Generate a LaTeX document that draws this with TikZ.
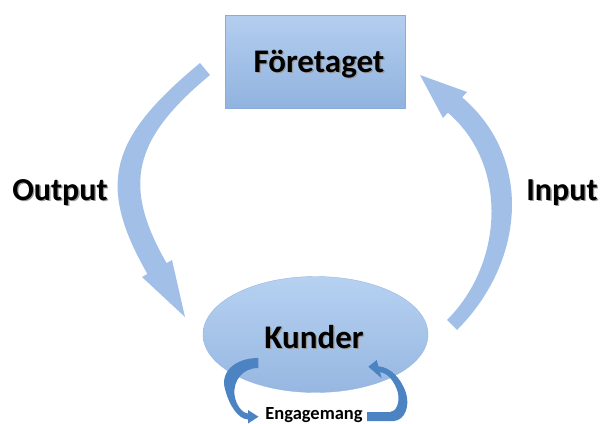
\documentclass[tikz,border=0pt]{standalone}
\usepackage{fontspec}
\setmainfont{Carlito}
\usetikzlibrary{shapes.geometric}
\definecolor{boxtop}{HTML}{B3CEEF}
\definecolor{boxbot}{HTML}{91B3DF}
\definecolor{boxline}{HTML}{8AACD9}
\definecolor{elltop}{HTML}{B6D1F1}
\definecolor{ellbot}{HTML}{97B7E1}
\definecolor{bigarrow}{HTML}{A2C0E7}
\definecolor{smallarrow}{HTML}{4C83C3}
\tikzset{
  bigtxt/.style={font=\bfseries\fontsize{33}{38}\selectfont, text=black},
  sidetxt/.style={font=\bfseries\fontsize{32}{36}\selectfont, text=black},
  smalltxt/.style={font=\bfseries\fontsize{18.5}{22}\selectfont, text=black},
  shadowtxt/.style={text=black!40},
  bigband/.style={fill=bigarrow},
  smallband/.style={fill=smallarrow},
}
\begin{document}
\begin{tikzpicture}[x=1pt,y=-1pt]
\useasboundingbox (0,0) rectangle (602,423);
\clip (0,0) rectangle (602,423);

% main shapes
\node[rectangle, draw=boxline, line width=0.8pt, top color=boxtop, bottom color=boxbot,
      minimum width=180pt, minimum height=93pt, inner sep=0pt] (firm) at (315,61.5) {};
\node[ellipse, top color=elltop, bottom color=ellbot, draw=ellbot, line width=0.4pt,
      minimum width=225pt, minimum height=116pt, inner sep=0pt] (cust) at (315.5,334.5) {};

% texts
\node[bigtxt, shadowtxt, anchor=base] (firmS) at ([shift={(1.3,1.3)}]319,72) {Företaget};
\node[bigtxt, anchor=base] (firmT) at (319,72) {Företaget};
\node[bigtxt, shadowtxt, anchor=base] (custS) at ([shift={(1.3,1.3)}]314,348) {Kunder};
\node[bigtxt, anchor=base] (custT) at (314,348) {Kunder};
\node[sidetxt, shadowtxt, anchor=base] (outS) at ([shift={(1.3,1.3)}]60,200) {Output};
\node[sidetxt, anchor=base] (outT) at (60,200) {Output};
\node[sidetxt, shadowtxt, anchor=base] (inS) at ([shift={(1.3,1.3)}]562,200) {Input};
\node[sidetxt, anchor=base] (inT) at (562,200) {Input};
\node[smalltxt, anchor=base] (eng) at (314,419.5) {Engagemang};

% output arrow (firm -> customers), tapered band + head
\coordinate (o0) at (200,63);
\coordinate (o1) at (210,75);
\path[bigband] (o0) .. controls (111.4,136.6) and (94.9,182.6) .. (147.4,273.9)
   -- (142,277) -- (185,317) -- (172,260) -- (166.6,263.1)
   .. controls (121.6,184.8) and (133,139) .. (o1) -- cycle;

% input arrow (customers -> firm)
\coordinate (i0) at (457,330);
\coordinate (i1) at (447,320);
\path[bigband] (i0) .. controls (524.2,262.8) and (534.3,159.1) .. (462.1,97.3)
   -- (467,92) -- (420,75) -- (443,118) -- (447.9,112.7)
   .. controls (508.7,164.7) and (503.6,263.4) .. (i1) -- cycle;

% engagement arrows
\coordinate (e0) at (258.3,358);
\coordinate (e1) at (258.3,368);
\path[smallband] (e0) .. controls (235,358) and (220,372) .. (225,389)
   .. controls (229,405) and (238,419) .. (248,419.5)
   -- (248,423.5) -- (258.5,416.7) -- (248,410) -- (248,413.5)
   .. controls (242,413) and (236,405) .. (234.5,395)
   .. controls (233,380) and (243,368) .. (e1) -- cycle;

\coordinate (f0) at (367,421);
\coordinate (f1) at (367,412);
\path[smallband] (f0) -- (394,421) .. controls (405,420) and (410,406) .. (406,393)
   .. controls (401,378) and (390,367) .. (378.4,366.3)
   -- (376.7,360) -- (368.3,366.7) -- (381.7,378.3) -- (380,372.1)
   .. controls (388,373) and (395,382) .. (398,393)
   .. controls (400,403) and (396,412) .. (390,412) -- (f1) -- cycle;
\end{tikzpicture}
\end{document}
